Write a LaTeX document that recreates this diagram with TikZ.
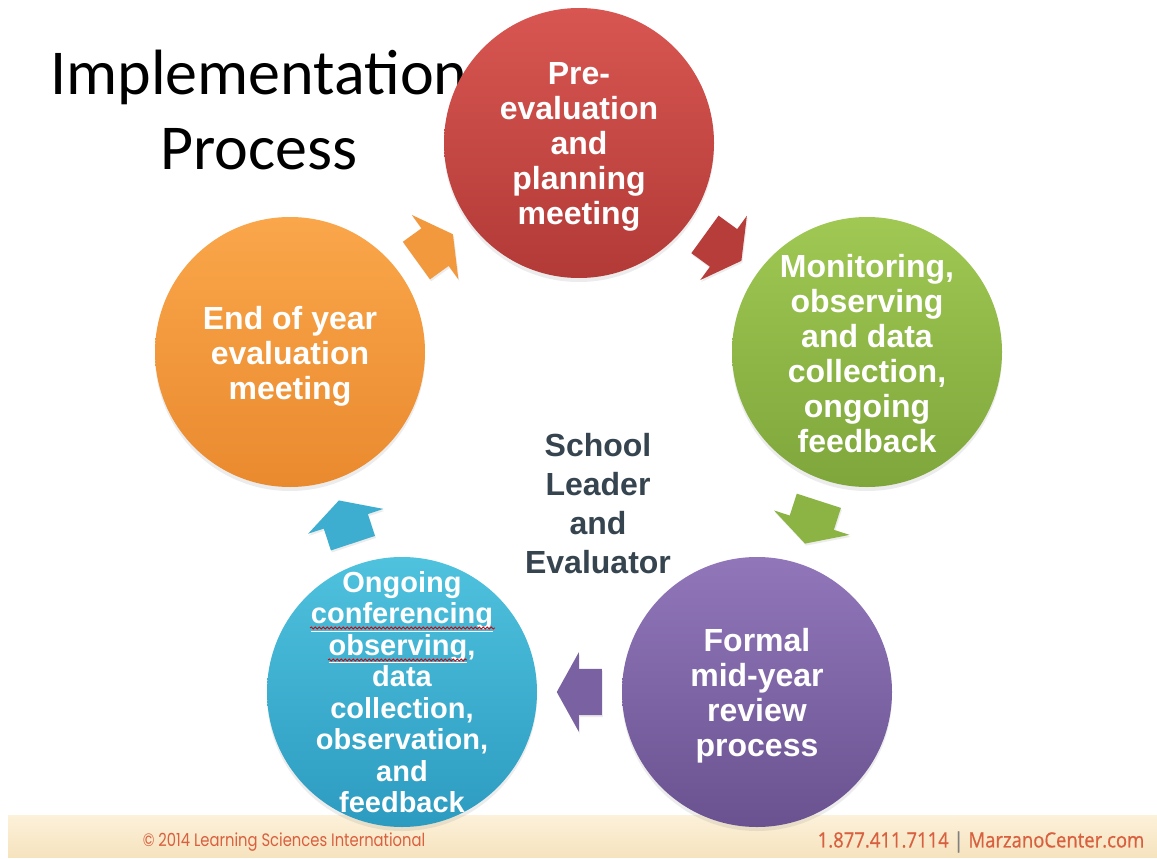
\documentclass[tikz,border=0pt]{standalone}
\usepackage{fontspec}
\setmainfont{Liberation Sans}
\newfontfamily\titlefont{Carlito}
\newfontfamily\leftfoot[FakeStretch=0.82]{Poppins}
\newfontfamily\rightfoot[FakeStretch=0.88,FakeBold=0.6]{Open Sans}
\usepackage{tikz}
\usetikzlibrary{calc,shapes.arrows,shadows,decorations.pathmorphing}

\definecolor{redtop}{HTML}{D85651}
\definecolor{redbot}{HTML}{B23A37}
\definecolor{greentop}{HTML}{A0C853}
\definecolor{greenbot}{HTML}{7EA63B}
\definecolor{purpletop}{HTML}{9177BA}
\definecolor{purplebot}{HTML}{6A5290}
\definecolor{bluetop}{HTML}{4FC2DE}
\definecolor{bluebot}{HTML}{2C9BC0}
\definecolor{orangetop}{HTML}{FAA64A}
\definecolor{orangebot}{HTML}{EA8A2F}
\definecolor{hubtext}{HTML}{36444F}
\definecolor{foottop}{HTML}{FCF1DA}
\definecolor{footbot}{HTML}{F6E3BE}
\definecolor{foottext}{HTML}{D9603F}

\newcommand\cyclearrow[3]{%
  \path let \p1=($ ($(#1)!0.5!(#2)$)!22.5pt!(#1) $), \p2=($(#2)-(#1)$),
    \n1={atan2(\y2,\x2)} in
    node[flowarrow, fill=#3, rotate=\n1, anchor=tail] at (\p1) {};
}

\begin{document}
\begin{tikzpicture}[x=1pt,y=-1pt,
    stage/.style={circle, minimum size=270pt, inner sep=0pt,
      top color=#1top, bottom color=#1bot,
      drop shadow={shadow xshift=0pt, shadow yshift=-4pt, opacity=.15}},
    stagetext/.style={text=white, align=center, inner sep=0pt, yshift=-4pt,
      font=\bfseries\fontsize{32}{35}\selectfont},
    flowarrow/.style={single arrow, draw=none, inner xsep=0pt, inner ysep=23pt,
      minimum height=45pt, single arrow head extend=16.5pt,
      single arrow tip angle=122,
      drop shadow={shadow xshift=1pt, shadow yshift=-2pt, opacity=.15}},
    squiggle/.style={draw=red!85!black, line width=.8pt, decorate,
      decoration={snake, amplitude=1pt, segment length=4pt}}]
  \useasboundingbox[fill=white] (0,0) rectangle (1157,859);

  \fill[top color=foottop, bottom color=footbot] (8,815) rectangle (1157,857);
  \node[text=foottext, font=\leftfoot\fontsize{18}{18}\selectfont] (copy) at (284,842)
    {\textcopyright\ 2014 Learning Sciences International};
  \node[text=foottext, font=\rightfoot\fontsize{21}{21}\selectfont] (contact) at (981,842)
    {1.877.411.7114 {\color{gray}|} MarzanoCenter.com};

  \node[font=\titlefont\fontsize{64}{75}\selectfont, align=center] (title) at (259,110)
    {Implementation\\Process};

  \node[stage=red]    (plan)    at (579,143) {};
  \node[stage=green]  (monitor) at (867,352) {};
  \node[stage=purple] (midyear) at (757,692) {};
  \node[stage=blue]   (ongoing) at (402,692) {};
  \node[stage=orange] (endyear) at (290,352) {};

  \node[stagetext] at (plan) {Pre-\\evaluation\\and\\planning\\meeting};
  \node[stagetext, yshift=2pt] at (monitor) {Monitoring,\\observing\\and data\\collection,\\ongoing\\feedback};
  \node[stagetext] at (midyear) {Formal\\mid-year\\review\\process};
  \node[stagetext, yshift=4pt, font=\bfseries\fontsize{29}{31.5}\selectfont] at (ongoing)
    {Ongoing\\\underline{conferencing}\\\underline{observing},\\data\\collection,\\observation,\\and\\feedback};
  \node[stagetext] at (endyear) {End of year\\evaluation\\meeting};

  \node[text=hubtext, align=center, font=\bfseries\fontsize{32}{39}\selectfont] (hub) at (598,504)
    {School\\Leader\\and\\Evaluator};

  \draw[squiggle] ($(ongoing)+(-92,-64)$) -- ($(ongoing)+(93,-64)$);
  \draw[squiggle] ($(ongoing)+(-74,-32)$) -- ($(ongoing)+(65,-32)$);

  \cyclearrow{plan}{monitor}{redbot!90!redtop}
  \cyclearrow{monitor}{midyear}{greenbot!60!greentop}
  \cyclearrow{midyear}{ongoing}{purplebot!60!purpletop}
  \cyclearrow{ongoing}{endyear}{bluebot!50!bluetop}
  \cyclearrow{endyear}{plan}{orangebot!50!orangetop}
\end{tikzpicture}
\end{document}
